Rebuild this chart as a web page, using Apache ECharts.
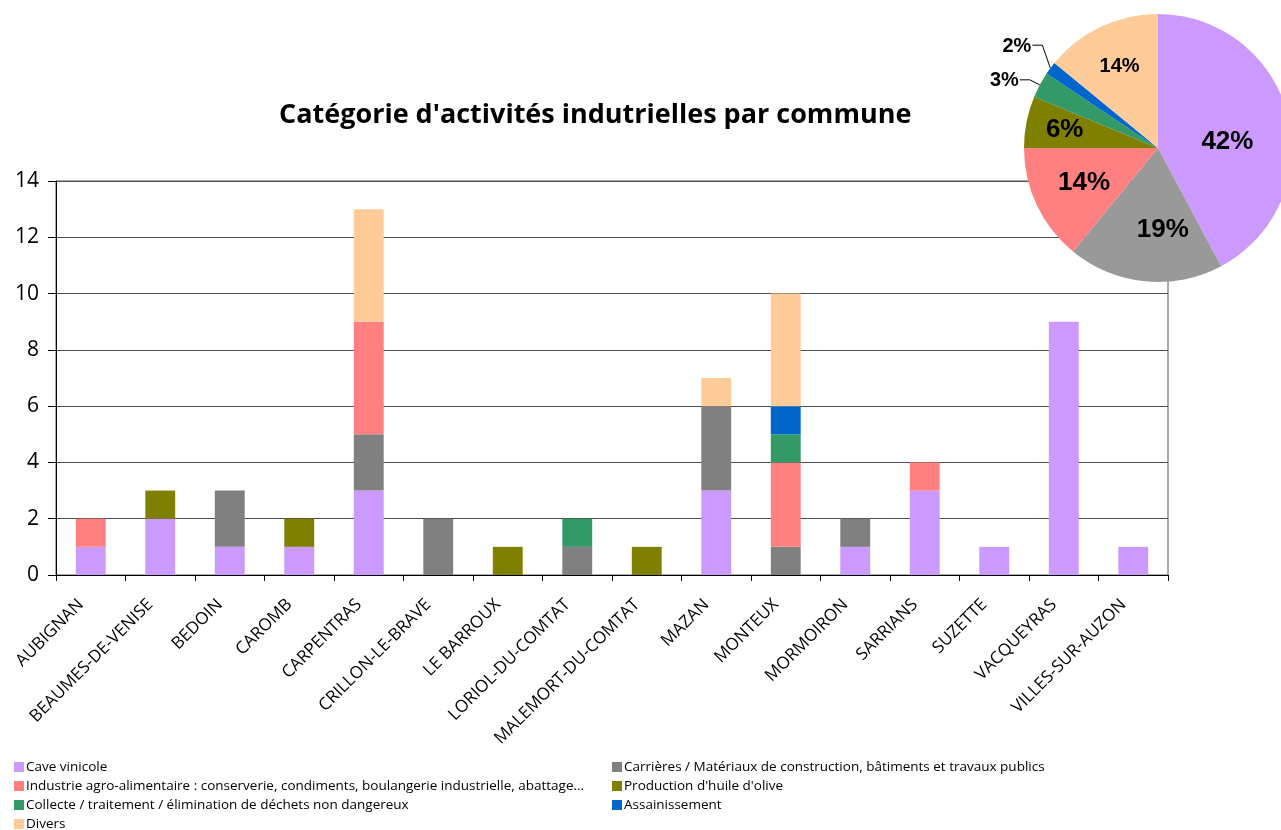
<!DOCTYPE html>
<html>
<head>
<meta charset="utf-8">
<title>Catégorie d'activités indutrielles par commune</title>
<script src="https://cdn.jsdelivr.net/npm/echarts@6/dist/echarts.min.js"></script>
<style>
  html, body { margin: 0; padding: 0; background: #fff; }
  #chart { width: 1281px; height: 830px; }
</style>
</head>
<body>
<div id="chart"></div>
<script>
// Communes (x axis)
const communes = [
  'AUBIGNAN', 'BEAUMES-DE-VENISE', 'BEDOIN', 'CAROMB', 'CARPENTRAS',
  'CRILLON-LE-BRAVE', 'LE BARROUX', 'LORIOL-DU-COMTAT', 'MALEMORT-DU-COMTAT',
  'MAZAN', 'MONTEUX', 'MORMOIRON', 'SARRIANS', 'SUZETTE', 'VACQUEYRAS',
  'VILLES-SUR-AUZON'
];

// Activity categories (legend / stack order, bottom to top)
const categoryNames = [
  'Cave vinicole',
  'Carrières / Matériaux de construction, bâtiments et travaux publics',
  'Industrie agro-alimentaire : conserverie, condiments, boulangerie industrielle, abattage…',
  "Production d'huile d'olive",
  'Collecte / traitement / élimination de déchets non dangereux',
  'Assainissement',
  'Divers'
];

// Number of establishments per commune, one array per category
const caveVinicole     = [1, 2, 1, 1, 3, 0, 0, 0, 0, 3, 0, 1, 3, 1, 9, 1];
const carrieres        = [0, 0, 2, 0, 2, 2, 0, 1, 0, 3, 1, 1, 0, 0, 0, 0];
const agroAlimentaire  = [1, 0, 0, 0, 4, 0, 0, 0, 0, 0, 3, 0, 1, 0, 0, 0];
const huileOlive       = [0, 1, 0, 1, 0, 0, 1, 0, 1, 0, 0, 0, 0, 0, 0, 0];
const dechets          = [0, 0, 0, 0, 0, 0, 0, 1, 0, 0, 1, 0, 0, 0, 0, 0];
const assainissement   = [0, 0, 0, 0, 0, 0, 0, 0, 0, 0, 1, 0, 0, 0, 0, 0];
const divers           = [0, 0, 0, 0, 4, 0, 0, 0, 0, 1, 4, 0, 0, 0, 0, 0];

// Overall totals per category shown in the pie
const pieTotals = [27, 12, 9, 4, 2, 1, 9];

const barSeriesData = [caveVinicole, carrieres, agroAlimentaire, huileOlive, dechets, assainissement, divers];
const barColors = ['#CC99FF', '#808080', '#FF8080', '#808000', '#339966', '#0066CC', '#FFCC99'];
const pieColors = ['#CC99FF', '#999999', '#FF8080', '#808000', '#339966', '#0066CC', '#FFCC99'];

const FONT = '"Open Sans", "DejaVu Sans", sans-serif';
const PIE_FONT = '"Liberation Sans", Arial, sans-serif';

const pieCenter = [1158, 148];
const pieRadius = 134;

// Geometry helpers for the pie labels
const pieSum = pieTotals.reduce((a, b) => a + b, 0);
function midAngle(i) {
  let before = 0;
  for (let k = 0; k < i; k++) before += pieTotals[k];
  return (before + pieTotals[i] / 2) / pieSum * Math.PI * 2;
}
function polar(angle, r) {
  return [pieCenter[0] + r * Math.sin(angle), pieCenter[1] - r * Math.cos(angle)];
}
// inside labels: fraction of radius and angular nudge (degrees)
const insideLabel = { 0: [0.52, 9], 1: [0.61, -9], 2: [0.61, 0], 3: [0.71, 0], 6: [0.67, 0] };
// outside labels: leader-line elbow relative to the slice edge
const outsideElbow = { 4: [-10, -5], 5: [-8, -23] };
const pieLabelSize = [26, 26, 26, 26, 20, 20, 20];

const barSeries = categoryNames.map((name, i) => ({
  name: name,
  type: 'bar',
  stack: 'total',
  barWidth: '43%',
  itemStyle: { color: barColors[i] },
  emphasis: { disabled: true },
  data: barSeriesData[i]
}));

const pieSeries = {
  name: 'Répartition',
  type: 'pie',
  center: pieCenter,
  radius: [0, pieRadius],
  startAngle: 90,
  clockwise: true,
  percentPrecision: 0,
  avoidLabelOverlap: false,
  silent: true,
  z: 5,
  label: {
    position: 'inside',
    formatter: '{d}%',
    color: '#000',
    fontFamily: PIE_FONT,
    fontWeight: 'bold'
  },
  labelLine: { show: false },
  labelLayout: function (p) {
    const i = p.dataIndex;
    if (insideLabel[i]) {
      const [f, da] = insideLabel[i];
      const pt = polar(midAngle(i) + da * Math.PI / 180, pieRadius * f);
      return { x: pt[0], y: pt[1], align: 'center', verticalAlign: 'middle' };
    }
    const edge = polar(midAngle(i), pieRadius);
    const el = outsideElbow[i];
    const elbow = [edge[0] + el[0], edge[1] + el[1]];
    const end = [elbow[0] - 10, elbow[1]];
    return {
      x: end[0] - 1, y: end[1] + 1, align: 'right', verticalAlign: 'middle',
      labelLinePoints: [edge, elbow, end]
    };
  },
  data: categoryNames.map((name, i) => {
    const item = {
      name: name,
      value: pieTotals[i],
      itemStyle: { color: pieColors[i] },
      label: { fontSize: pieLabelSize[i] }
    };
    if (outsideElbow[i]) {
      item.label.position = 'outside';
      item.labelLine = { show: true, lineStyle: { color: '#000', width: 1 } };
    }
    return item;
  })
};

const legendText = { fontFamily: FONT, fontSize: 13.5, color: '#000', padding: [0, 0, 0, -3] };
const legendBase = {
  orient: 'vertical', top: 760, height: 120, padding: 0,
  itemWidth: 10, itemHeight: 10, itemGap: 5, icon: 'rect',
  selectedMode: false,
  textStyle: legendText
};

const option = {
  animation: false,
  backgroundColor: '#fff',
  textStyle: { fontFamily: FONT },
  title: {
    text: "Catégorie d'activités indutrielles par commune",
    left: 279,
    top: 102,
    padding: 0,
    textStyle: { fontFamily: FONT, fontWeight: 'bold', fontSize: 27, color: '#000' }
  },
  legend: [
    Object.assign({}, legendBase, {
      left: 14,
      data: [categoryNames[0], categoryNames[2], categoryNames[4], categoryNames[6]]
    }),
    Object.assign({}, legendBase, {
      left: 612,
      data: [categoryNames[1], categoryNames[3], categoryNames[5]]
    })
  ],
  grid: {
    left: 56, right: 113, top: 181, bottom: 255,
    show: true, borderColor: '#595959', borderWidth: 1
  },
  xAxis: {
    type: 'category',
    data: communes,
    axisLine: { lineStyle: { color: '#000', width: 1 } },
    axisTick: { show: true, interval: 0, length: 6, lineStyle: { color: '#000' } },
    axisLabel: {
      interval: 0, rotate: 45, fontFamily: FONT, fontSize: 17, color: '#000',
      margin: 17, padding: [0, 14, 0, 0]
    }
  },
  yAxis: {
    type: 'value',
    min: 0, max: 14, interval: 2,
    axisLine: { show: true, lineStyle: { color: '#000', width: 1 } },
    axisTick: { show: true, length: 8, lineStyle: { color: '#000' } },
    axisLabel: { fontFamily: FONT, fontSize: 21, color: '#000', margin: 17 },
    splitLine: { show: true, lineStyle: { color: '#4d4d4d', width: 1 } }
  },
  series: barSeries.concat([pieSeries])
};

const chart = echarts.init(document.getElementById('chart'), null, { renderer: 'canvas' });
chart.setOption(option);
</script>
</body>
</html>
